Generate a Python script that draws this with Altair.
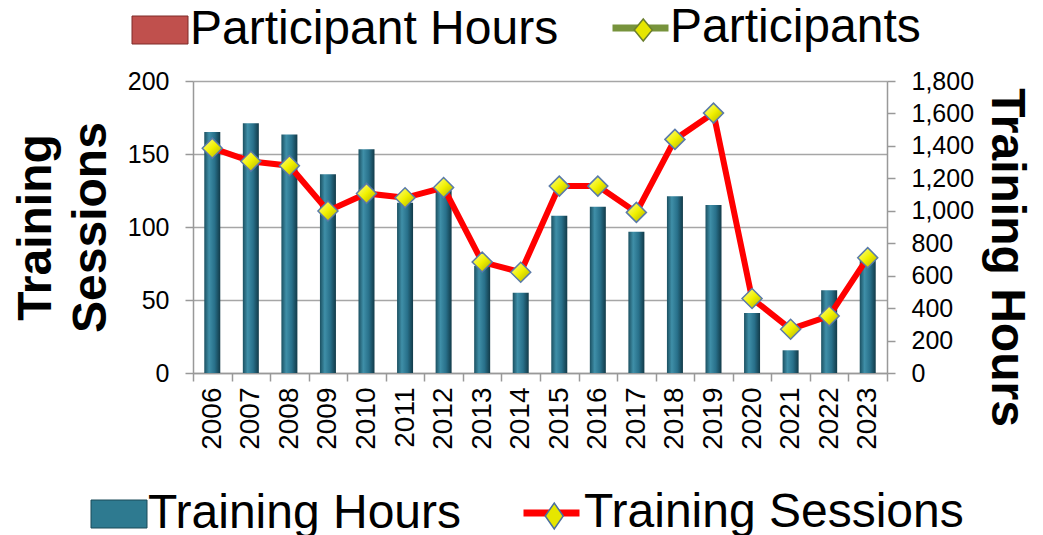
import altair as alt
import pandas as pd

FONT = "Liberation Sans"

years = ["2006", "2007", "2008", "2009", "2010", "2011", "2012", "2013", "2014",
         "2015", "2016", "2017", "2018", "2019", "2020", "2021", "2022", "2023"]
training_hours = [1485, 1540, 1470, 1225, 1380, 1050, 1125, 660, 495,
                  970, 1025, 870, 1090, 1035, 370, 140, 510, 700]
training_sessions = [154, 145, 142, 111, 123, 120, 127, 76, 69,
                     128, 128, 110, 160, 178, 51, 30, 39, 79]
session_ticks = [0, 50, 100, 150, 200]
hour_ticks = [0, 200, 400, 600, 800, 1000, 1200, 1400, 1600, 1800]

df = pd.DataFrame({"year": years, "hours": training_hours, "sessions": training_sessions})
base = alt.Chart(df)

x_enc = alt.X(
    "year:O",
    scale=alt.Scale(paddingInner=0, paddingOuter=0),
    axis=alt.Axis(
        title=None, labelAngle=270, labelFontSize=28, labelFont=FONT, labelColor="black",
        labelPadding=6, tickBand="extent", tickSize=8, tickWidth=1.5, tickColor="#999999",
        domainColor="#999999", domainWidth=1.5,
    ),
)

bar_grad = alt.Gradient(
    gradient="linear", x1=0, x2=1, y1=0, y2=0,
    stops=[
        alt.GradientStop(offset=0, color="#1b5061"),
        alt.GradientStop(offset=0.3, color="#3f8fa8"),
        alt.GradientStop(offset=0.65, color="#28708a"),
        alt.GradientStop(offset=1, color="#123a48"),
    ],
)
dia_grad = alt.Gradient(
    gradient="linear", x1=0, x2=1, y1=0, y2=1,
    stops=[
        alt.GradientStop(offset=0, color="#ffff99"),
        alt.GradientStop(offset=0.5, color="#f0f000"),
        alt.GradientStop(offset=1, color="#a8a800"),
    ],
)

bars = base.mark_bar(size=16, fill=bar_grad).encode(
    x=x_enc,
    y=alt.Y(
        "hours:Q",
        scale=alt.Scale(domain=[0, 1800], nice=False),
        axis=alt.Axis(
            orient="right", values=hour_ticks, format=",.0f", grid=False,
            labelFontSize=25, labelFont=FONT, labelColor="black", labelPadding=16,
            tickSize=8, tickWidth=1.5, tickColor="#999999",
            domainColor="#999999", domainWidth=1.5,
            title="Training Hours", titleFont=FONT, titleFontSize=48, titleFontWeight="bold",
            titleColor="black", titleAngle=90, titleX=118, titleY=176,
            titleAlign="center", titleBaseline="middle",
        ),
    ),
)

line = base.mark_line(color="#ff0000", strokeWidth=6).encode(
    x=x_enc,
    y=alt.Y(
        "sessions:Q",
        scale=alt.Scale(domain=[0, 200], nice=False),
        axis=alt.Axis(
            orient="left", values=session_ticks, grid=True, gridColor="#a6a6a6", gridWidth=1.5,
            labelFontSize=25, labelFont=FONT, labelColor="black", labelPadding=16,
            tickSize=8, tickWidth=1.5, tickColor="#999999",
            domainColor="#999999", domainWidth=1.5,
            title=["Training", "Sessions"], titleFont=FONT, titleFontSize=48,
            titleFontWeight="bold", titleColor="black", titleAngle=270, titleLineHeight=55,
            titleX=-157, titleY=146, titleAlign="center", titleBaseline="middle",
        ),
    ),
)

points = base.mark_point(
    shape="diamond", filled=True, size=400, fill=dia_grad, stroke="#5a7aa8",
    strokeWidth=1.5, opacity=1,
).encode(
    x=x_enc,
    y=alt.Y("sessions:Q", scale=alt.Scale(domain=[0, 200], nice=False), axis=None),
)

RECT = "M-1.4,-0.7H1.4V0.7H-1.4Z"
HLINE = "M-1.4,0H1.4"
DIA_TOP = "M-0.45,0L0,-0.55L0.45,0L0,0.55Z"
DIA_BOT = "M-0.45,0L0,-0.65L0.45,0L0,0.65Z"

common = dict(orient="none", title=None, labelFont=FONT, labelFontSize=48, labelLimit=2000,
              padding=0, symbolOpacity=1, labelColor="black", symbolSize=1600)


def legend_layer(kind, name, color, **kw):
    lay = base.transform_calculate(series=f"'{name}'").transform_filter("false")
    if kind == "bar":
        lay = lay.mark_bar()
    elif kind == "line":
        lay = lay.mark_line()
    else:
        lay = lay.mark_point(filled=True, opacity=1)
    return lay.encode(
        color=alt.Color("series:N", scale=alt.Scale(domain=[name], range=[color]),
                        legend=alt.Legend(**common, **kw))
    )


leg1 = legend_layer("bar", "Participant Hours", "#c0504d", symbolType=RECT,
                    symbolStrokeColor="#7f2a28", symbolStrokeWidth=1,
                    legendX=-57, legendY=-75, labelOffset=6)
leg2 = legend_layer("line", "Participants", "#77933c", symbolType=HLINE,
                    symbolStrokeWidth=7, legendX=423.5, legendY=-77, labelOffset=5.5)
leg3 = legend_layer("point", "Participants ", "#e6e600", symbolType=DIA_TOP,
                    symbolStrokeColor="#6b7f2e", symbolStrokeWidth=1.5, labelExpr="''",
                    legendX=426.25, legendY=-75, labelOffset=5.5)
leg4 = legend_layer("bar", "Training Hours", "#2e7a90", symbolType=RECT,
                    symbolStrokeColor="#1a4a58", symbolStrokeWidth=1,
                    legendX=-98, legendY=409, labelOffset=5)
leg5 = legend_layer("line", "Training Sessions", "#ff0000", symbolType=HLINE,
                    symbolStrokeWidth=7, legendX=334.5, legendY=408, labelOffset=8.5)
leg6 = legend_layer("point", "Training Sessions ", "#e6e600", symbolType=DIA_BOT,
                    symbolStrokeColor="#4a6ea0", symbolStrokeWidth=1.5, labelExpr="''",
                    legendX=337.25, legendY=411, labelOffset=8.5)

chart = (
    alt.layer(bars, line, points, leg1, leg2, leg3, leg4, leg5, leg6)
    .resolve_scale(y="independent", color="independent")
    .properties(
        width=694, height=292,
        autosize=alt.AutoSizeParams(type="none"),
        padding={"left": 185, "top": 73, "right": 148, "bottom": 162},
        background="white",
    )
    .configure_view(stroke=None)
)

chart.save("out.html", embed_options={"renderer": "svg", "actions": False})
